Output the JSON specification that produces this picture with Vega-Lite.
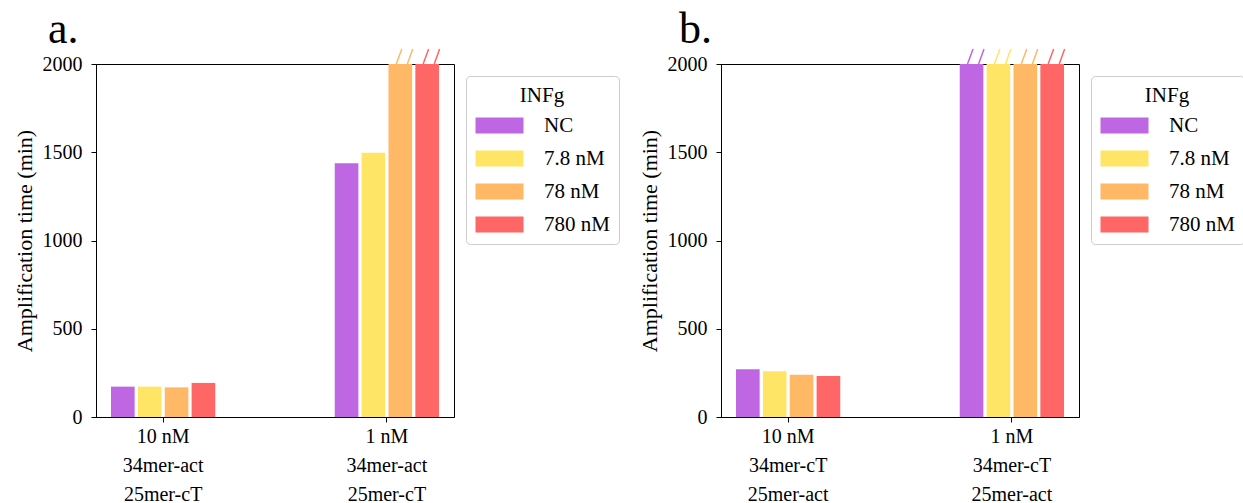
{
  "$schema": "https://vega.github.io/schema/vega-lite/v6.json",
  "background": "white",
  "padding": {"left": 12, "top": 7, "right": 0, "bottom": 0},
  "data": {"values": [
    {"panel": "a", "group": "10 nM|34mer-act|25mer-cT", "infg": "NC", "value": 172},
    {"panel": "a", "group": "10 nM|34mer-act|25mer-cT", "infg": "7.8 nM", "value": 172},
    {"panel": "a", "group": "10 nM|34mer-act|25mer-cT", "infg": "78 nM", "value": 168},
    {"panel": "a", "group": "10 nM|34mer-act|25mer-cT", "infg": "780 nM", "value": 193},
    {"panel": "a", "group": "1 nM|34mer-act|25mer-cT", "infg": "NC", "value": 1437},
    {"panel": "a", "group": "1 nM|34mer-act|25mer-cT", "infg": "7.8 nM", "value": 1497},
    {"panel": "a", "group": "1 nM|34mer-act|25mer-cT", "infg": "78 nM", "value": 2000},
    {"panel": "a", "group": "1 nM|34mer-act|25mer-cT", "infg": "780 nM", "value": 2000},
    {"panel": "b", "group": "10 nM|34mer-cT|25mer-act", "infg": "NC", "value": 270},
    {"panel": "b", "group": "10 nM|34mer-cT|25mer-act", "infg": "7.8 nM", "value": 259},
    {"panel": "b", "group": "10 nM|34mer-cT|25mer-act", "infg": "78 nM", "value": 240},
    {"panel": "b", "group": "10 nM|34mer-cT|25mer-act", "infg": "780 nM", "value": 232},
    {"panel": "b", "group": "1 nM|34mer-cT|25mer-act", "infg": "NC", "value": 2000},
    {"panel": "b", "group": "1 nM|34mer-cT|25mer-act", "infg": "7.8 nM", "value": 2000},
    {"panel": "b", "group": "1 nM|34mer-cT|25mer-act", "infg": "78 nM", "value": 2000},
    {"panel": "b", "group": "1 nM|34mer-cT|25mer-act", "infg": "780 nM", "value": 2000}
  ]},
  "spacing": 17,
  "resolve": {"scale": {"color": "independent", "x": "independent"}, "legend": {"color": "independent"}},
  "hconcat": [
    {
      "title": {"text": "a.", "anchor": "start", "frame": "group", "dx": -48, "offset": -41, "baseline": "alphabetic", "fontSize": 44, "font": "Liberation Serif", "fontWeight": "normal", "color": "black"},
      "width": 358, "height": 353,
      "transform": [{"filter": "datum.panel === 'a'"}],
      "layer": [
        {
          "mark": {"type": "bar"},
          "encoding": {
            "x": {"field": "group", "type": "nominal", "scale": {"domain": ["10 nM|34mer-act|25mer-cT", "1 nM|34mer-act|25mer-cT"], "paddingInner": 0.534, "paddingOuter": 0.067}, "axis": {"title": null, "labelAngle": 0, "labelExpr": "split(datum.label, '|')", "labelLineHeight": 29, "labelPadding": 4}},
            "xOffset": {"field": "infg", "type": "nominal", "scale": {"domain": ["NC", "7.8 nM", "78 nM", "780 nM"], "paddingInner": 0.12, "paddingOuter": 0}},
            "y": {"field": "value", "type": "quantitative", "scale": {"domain": [0, 2000], "nice": false}, "axis": {"title": "Amplification time (min)", "values": [0, 500, 1000, 1500, 2000], "format": "d", "grid": false}},
            "color": {"field": "infg", "type": "nominal", "scale": {"domain": ["NC", "7.8 nM", "78 nM", "780 nM"], "range": ["#BF66E2", "#FFE566", "#FFB866", "#FF6666"]},
              "legend": {"orient": "none", "legendX": 370, "legendY": 12, "title": "INFg"}}
          }
        },
        {
          "transform": [{"filter": "datum.value >= 2000"}],
          "mark": {"type": "point", "shape": "M -0.27 0 L 0.1 -1 M 0.47 0 L 0.83 -1", "size": 900, "filled": false, "strokeWidth": 1.5, "opacity": 1},
          "encoding": {
            "x": {"field": "group", "type": "nominal"},
            "xOffset": {"field": "infg", "type": "nominal"},
            "y": {"field": "value", "type": "quantitative"},
            "stroke": {"field": "infg", "type": "nominal", "scale": {"domain": ["NC", "7.8 nM", "78 nM", "780 nM"], "range": ["#BF66E2", "#FFE566", "#FFB866", "#FF6666"]}, "legend": null}
          }
        }
      ]
    },
    {
      "title": {"text": "b.", "anchor": "start", "frame": "group", "dx": -42, "offset": -41, "baseline": "alphabetic", "fontSize": 44, "font": "Liberation Serif", "fontWeight": "normal", "color": "black"},
      "width": 358, "height": 353,
      "transform": [{"filter": "datum.panel === 'b'"}],
      "layer": [
        {
          "mark": {"type": "bar"},
          "encoding": {
            "x": {"field": "group", "type": "nominal", "scale": {"domain": ["10 nM|34mer-cT|25mer-act", "1 nM|34mer-cT|25mer-act"], "paddingInner": 0.534, "paddingOuter": 0.067}, "axis": {"title": null, "labelAngle": 0, "labelExpr": "split(datum.label, '|')", "labelLineHeight": 29, "labelPadding": 4}},
            "xOffset": {"field": "infg", "type": "nominal", "scale": {"domain": ["NC", "7.8 nM", "78 nM", "780 nM"], "paddingInner": 0.12, "paddingOuter": 0}},
            "y": {"field": "value", "type": "quantitative", "scale": {"domain": [0, 2000], "nice": false}, "axis": {"title": "Amplification time (min)", "values": [0, 500, 1000, 1500, 2000], "format": "d", "grid": false}},
            "color": {"field": "infg", "type": "nominal", "scale": {"domain": ["NC", "7.8 nM", "78 nM", "780 nM"], "range": ["#BF66E2", "#FFE566", "#FFB866", "#FF6666"]},
              "legend": {"orient": "none", "legendX": 370, "legendY": 12, "title": "INFg"}}
          }
        },
        {
          "transform": [{"filter": "datum.value >= 2000"}],
          "mark": {"type": "point", "shape": "M -0.27 0 L 0.1 -1 M 0.47 0 L 0.83 -1", "size": 900, "filled": false, "strokeWidth": 1.5, "opacity": 1},
          "encoding": {
            "x": {"field": "group", "type": "nominal"},
            "xOffset": {"field": "infg", "type": "nominal"},
            "y": {"field": "value", "type": "quantitative"},
            "stroke": {"field": "infg", "type": "nominal", "scale": {"domain": ["NC", "7.8 nM", "78 nM", "780 nM"], "range": ["#BF66E2", "#FFE566", "#FFB866", "#FF6666"]}, "legend": null}
          }
        }
      ]
    }
  ],
  "config": {
    "font": "Liberation Serif",
    "view": {"stroke": "black", "strokeWidth": 1},
    "axis": {"labelFont": "Liberation Serif", "labelFontSize": 20, "labelColor": "black", "titleFont": "Liberation Serif", "titleFontSize": 20, "titleFontWeight": "normal", "titleColor": "black", "tickColor": "black", "domainColor": "black", "tickSize": 5, "domainWidth": 1, "tickWidth": 1},
    "axisY": {"labelPadding": 9, "titlePadding": 6, "titleFontSize": 22},
    "legend": {"titleFont": "Liberation Serif", "titleFontSize": 21, "titleFontWeight": "normal", "titleColor": "black", "titleAnchor": "middle", "titleAlign": "center", "titlePadding": 9,
      "labelFont": "Liberation Serif", "labelFontSize": 21, "labelColor": "black",
      "symbolType": "M-1.25,-1H4.75V1H-1.25Z", "symbolSize": 256, "symbolStrokeWidth": 0, "symbolOpacity": 1, "labelOffset": 48, "rowPadding": 11,
      "padding": 9, "strokeColor": "#cccccc", "cornerRadius": 4, "fillColor": "white"}
  }
}
